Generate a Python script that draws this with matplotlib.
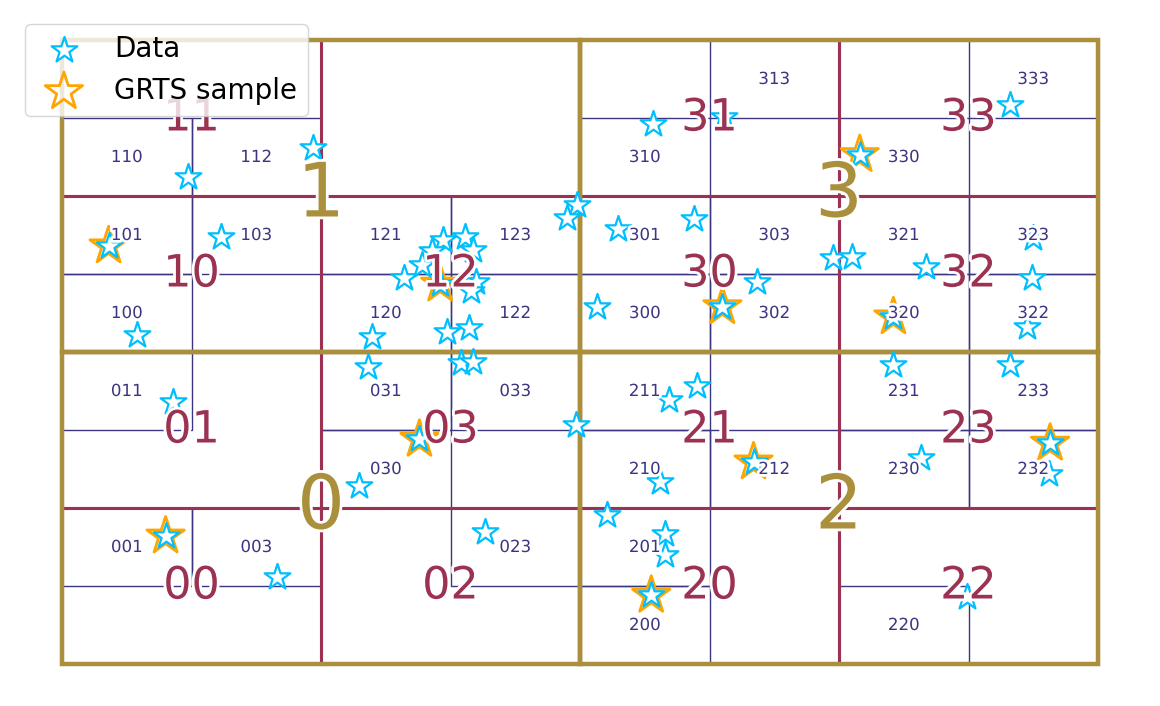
import matplotlib
matplotlib.use("Agg")

import matplotlib.pyplot as plt
import matplotlib.patheffects as pe
from matplotlib.patches import Rectangle

# Occupied level-3 cells (quadtree address, 0=BL 1=TL 2=BR 3=TR)
cells = ["110", "112", "101", "103", "100", "121", "123", "120", "122",
         "011", "031", "033", "030", "001", "003", "023",
         "313", "310", "301", "303", "300", "302",
         "333", "330", "321", "323", "320", "322",
         "211", "210", "212", "201", "200",
         "231", "233", "230", "232", "220"]

# Data points (grid units, 0-8)
data_x = [1.94, 0.97, 0.36, 1.23, 0.58, 3.98, 3.90, 2.64, 2.94, 3.11,
          2.86, 3.17, 2.78, 2.92, 3.20, 3.16, 2.97, 3.14, 3.08, 3.17,
          2.39, 2.36, 0.86, 0.80, 1.66, 2.29, 2.76, 3.27, 3.97, 4.56,
          5.11, 4.29, 4.88, 4.13, 5.10, 5.37, 5.95, 6.10, 6.67, 7.50,
          7.49, 6.42, 7.45, 6.16, 7.32, 6.42, 7.32, 6.63, 7.63, 7.62,
          6.99, 4.90, 4.69, 4.62, 5.34, 4.21, 4.66, 4.66, 4.55]
data_y = [6.62, 6.24, 5.36, 5.47, 4.22, 5.88, 5.72, 4.95, 5.44, 5.47,
          5.29, 5.31, 5.12, 4.87, 4.90, 4.78, 4.26, 4.31, 3.86, 3.87,
          4.19, 3.81, 3.36, 1.64, 1.12, 2.28, 2.88, 1.69, 3.06, 6.92,
          7.01, 5.58, 5.71, 4.58, 4.58, 4.90, 5.21, 5.22, 5.09, 5.46,
          4.95, 4.45, 4.32, 6.53, 7.17, 3.83, 3.83, 2.64, 2.83, 2.44,
          0.86, 3.56, 3.38, 2.33, 2.59, 1.91, 1.67, 1.40, 0.88]

# GRTS sample
sample_x = [0.36, 2.92, 2.76, 0.80, 5.10, 6.16, 6.42, 5.34, 7.63, 4.55]
sample_y = [5.36, 4.87, 2.88, 1.64, 4.58, 6.53, 4.45, 2.59, 2.83, 0.88]

gold = "#aa8f3c"
wine = "#9b3252"
indigo = "#3c3680"
halo = [pe.withStroke(linewidth=4, foreground="white")]


def cell_box(code):
    x0, y0, size = 0.0, 0.0, 8.0
    for ch in code:
        d = int(ch)
        size /= 2
        x0 += size * (d // 2)
        y0 += size * (d % 2)
    return x0, y0, size


fig = plt.figure(figsize=(11.6, 7.06), dpi=100)
ax = fig.add_axes([62 / 1160, 42 / 706, 1036 / 1160, 624 / 706])
ax.set_xlim(0, 8)
ax.set_ylim(0, 8)
ax.axis("off")

level2 = sorted(set(c[:2] for c in cells))
level1 = ["0", "1", "2", "3"]

for codes, color, lw, z, fs, tc in [
    (cells, indigo, 1.0, 1, 12, indigo),
    (level2, wine, 2.2, 2, 32, wine),
    (level1, gold, 3.2, 3, 54, gold),
]:
    for c in codes:
        x0, y0, s = cell_box(c)
        ax.add_patch(Rectangle((x0, y0), s, s, fill=False, edgecolor=color,
                               linewidth=lw, zorder=z, clip_on=False))
    for c in codes:
        x0, y0, s = cell_box(c)
        if len(c) == 1:
            tx, ty = x0 + s / 2, y0 + s / 2
        else:
            tx, ty = x0 + s / 2, y0 + s / 2
        ax.text(tx, ty, c, ha="center", va="center", fontsize=fs, color=tc,
                zorder=10 + z, path_effects=halo)

h_sample = ax.scatter(sample_x, sample_y, marker="*", s=800, facecolor="none",
                      edgecolor="orange", linewidth=2, zorder=5,
                      label="GRTS sample", clip_on=False)
h_data = ax.scatter(data_x, data_y, marker="*", s=380, facecolor="white",
                    edgecolor="deepskyblue", linewidth=1.6, zorder=6,
                    label="Data", clip_on=False)

leg = ax.legend(handles=[h_data, h_sample], loc="upper left",
                bbox_to_anchor=(25 / 1160, 1 - 24 / 706),
                bbox_transform=fig.transFigure, borderaxespad=0,
                fontsize=20)
leg.set_zorder(20)

fig.savefig("out.png", dpi=100)
